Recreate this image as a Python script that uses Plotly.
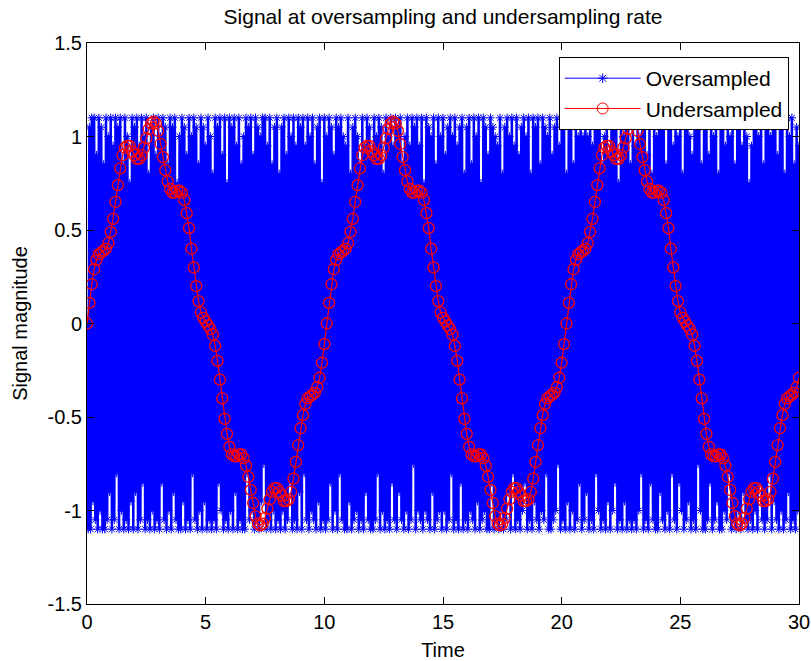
import numpy as np
import plotly.graph_objects as go

# ---------------- data ----------------
# sample times
t_over = np.linspace(0, 30, 601)
t_under = np.linspace(0, 30, 301)

# oversampled (dense, high-frequency) signal values
over_vals = [
    0.0, -1.1, 1.05, -1.1, 1.1, -0.95, 1.1, -1.05, 0.9, -1.1, 1.1, -1.0, 1.05, -1.1, 0.85, -1.1, 1.1, -1.05, 1.0, -0.9,
    1.1, -1.1, 0.95, -1.05, 1.1, -0.8, 1.05, -1.1, 1.1, -1.0, 0.85, -1.1, 1.1, -1.05, 1.0, -1.1, 0.75, -0.95, 1.1, -1.1,
    1.05, -0.9, 1.1, -1.1, 0.95, -1.05, 1.1, -0.85, 1.0, -1.1, 1.1, -1.05, 0.8, -1.1, 1.05, -1.0, 1.1, -1.1, 0.9, -1.05,
    1.1, -1.1, 1.0, -0.85, 1.1, -1.05, 1.05, -1.1, 0.85, -1.0, 1.1, -1.1, 1.05, -0.9, 1.1, -1.05, 0.75, -1.1, 1.0, -1.1,
    1.1, -0.95, 1.05, -1.1, 0.9, -1.05, 1.1, -1.1, 1.0, -0.8, 1.1, -1.05, 1.05, -1.1, 0.85, -1.0, 1.1, -1.1, 1.05, -0.95,
    0.95, -1.1, 1.1, -1.05, 1.0, -1.1, 0.8, -1.05, 1.1, -1.1, 1.05, -0.85, 1.1, -1.0, 0.9, -1.1, 1.1, -1.05, 0.75, -1.1,
    1.1, -1.0, 1.05, -1.1, 1.1, -0.9, 0.95, -1.1, 1.1, -1.05, 0.85, -1.1, 1.0, -1.1, 1.1, -0.8, 1.05, -1.05, 1.1, -1.0,
    0.9, -1.1, 1.1, -1.05, 1.05, -1.1, 1.0, -0.95, 1.1, -0.75, 1.1, -1.1, 0.95, -1.05, 1.1, -1.1, 0.85, -1.0, 1.05, -1.1,
    1.1, -1.05, 0.8, -1.1, 1.05, -1.0, 1.1, -1.1, 0.9, -1.05, 1.1, -0.85, 1.0, -1.1, 1.1, -1.05, 0.95, -1.1, 1.1, -0.9,
    1.05, -1.1, 1.1, -0.8, 0.95, -1.05, 1.1, -1.1, 1.0, -1.0, 1.1, -1.05, 0.85, -1.1, 1.05, -0.95, 1.1, -1.1, 0.75, -1.05,
    1.1, -1.1, 1.0, -1.05, 1.1, -0.85, 1.05, -1.1, 0.9, -1.0, 1.1, -1.1, 1.05, -0.8, 1.1, -1.05, 1.0, -1.1, 0.95, -1.1,
    1.1, -0.95, 0.8, -1.1, 1.05, -1.05, 1.1, -1.0, 1.0, -1.1, 0.85, -1.05, 1.1, -1.1, 0.95, -0.9, 1.1, -1.05, 1.05, -1.1,
    0.9, -1.1, 1.1, -1.05, 1.0, -0.8, 1.1, -1.1, 1.05, -1.0, 0.8, -1.1, 1.1, -1.05, 1.0, -1.1, 1.1, -0.85, 0.95, -1.05,
    1.1, -1.1, 1.05, -0.9, 1.1, -1.05, 0.85, -1.1, 1.0, -1.0, 1.1, -1.1, 0.95, -1.05, 1.1, -0.75, 1.05, -1.1, 1.1, -1.0,
    0.95, -1.05, 1.1, -1.1, 0.75, -1.0, 1.1, -1.05, 1.05, -1.1, 1.0, -0.9, 1.1, -1.1, 0.85, -1.05, 1.1, -1.0, 1.0, -1.1,
    1.1, -1.0, 0.9, -1.1, 1.05, -1.05, 1.1, -0.8, 1.0, -1.1, 1.1, -1.05, 0.95, -1.1, 1.05, -0.85, 1.1, -1.1, 0.8, -1.05,
    1.05, -1.1, 1.1, -1.0, 0.85, -1.05, 1.1, -1.1, 1.0, -0.95, 1.1, -1.1, 0.75, -1.05, 1.1, -1.0, 1.05, -1.1, 0.9, -1.1,
    1.1, -0.85, 1.05, -1.1, 1.0, -1.05, 0.95, -1.1, 1.1, -1.0, 0.8, -1.1, 1.05, -1.05, 1.1, -0.9, 1.0, -1.1, 1.1, -0.8,
    0.95, -1.1, 1.1, -1.05, 0.9, -1.1, 1.05, -1.0, 1.1, -0.85, 1.0, -1.1, 1.1, -1.05, 0.8, -1.1, 1.1, -0.95, 1.05, -1.05,
    1.1, -1.1, 0.85, -1.0, 1.1, -1.05, 1.05, -0.8, 1.0, -1.1, 1.1, -1.1, 0.9, -1.05, 1.05, -1.0, 1.1, -0.75, 0.95, -1.1,
    1.05, -1.05, 1.1, -1.1, 0.8, -0.95, 1.1, -1.1, 1.05, -1.0, 0.85, -1.1, 1.1, -1.05, 1.0, -0.85, 1.1, -1.1, 1.0, -1.05,
    1.1, -0.9, 1.0, -1.1, 1.05, -1.05, 0.95, -1.1, 1.1, -0.8, 1.05, -1.0, 1.1, -1.1, 0.85, -1.05, 1.0, -1.1, 1.1, -0.95,
    0.9, -1.1, 1.1, -1.0, 1.05, -0.85, 1.1, -1.1, 0.75, -1.05, 1.1, -1.1, 1.0, -0.95, 1.05, -1.1, 1.1, -1.05, 0.85, -1.1,
    1.1, -1.05, 0.95, -1.1, 1.1, -1.0, 1.0, -0.8, 1.05, -1.1, 1.1, -1.05, 0.9, -1.1, 1.1, -0.85, 0.8, -1.05, 1.1, -1.1,
    1.0, -1.1, 1.05, -0.9, 1.1, -1.05, 1.1, -1.1, 0.85, -1.0, 1.05, -1.1, 1.1, -0.8, 0.95, -1.05, 1.1, -1.1, 1.0, -0.85,
    1.1, -1.0, 0.8, -1.1, 1.05, -1.05, 1.1, -0.95, 1.0, -1.1, 0.9, -1.05, 1.1, -1.1, 1.05, -0.75, 1.1, -1.0, 0.85, -1.1,
    1.05, -1.1, 1.1, -1.05, 0.9, -0.85, 1.1, -1.1, 1.0, -1.05, 1.1, -0.95, 0.8, -1.1, 1.05, -1.1, 1.1, -1.0, 0.95, -1.05,
    1.1, -0.8, 1.0, -1.1, 1.1, -1.05, 0.85, -1.1, 1.05, -1.0, 1.1, -1.1, 0.95, -0.9, 1.1, -1.05, 1.0, -1.1, 0.75, -1.05,
    0.95, -1.1, 1.1, -1.0, 1.05, -1.1, 1.0, -0.85, 1.1, -1.05, 0.85, -1.1, 1.1, -1.05, 1.05, -0.8, 1.0, -1.1, 1.1, -0.95,
    1.1, -1.05, 0.9, -1.1, 1.05, -1.0, 1.1, -1.1, 0.8, -1.05, 1.1, -0.9, 1.0, -1.1, 1.1, -1.05, 0.85, -1.1, 1.05, -1.0,
    0.95,
]

# undersampled (aliased) signal values, one per circle
under_vals = [
    0.00, 0.11, 0.21, 0.29, 0.34, 0.37, 0.38, 0.39, 0.40, 0.43,
    0.49, 0.56, 0.65, 0.74, 0.83, 0.90, 0.94, 0.95, 0.95, 0.92,
    0.90, 0.88, 0.88, 0.90, 0.94, 0.99, 1.04, 1.07, 1.08, 1.07,
    1.03, 0.96, 0.89, 0.82, 0.76, 0.72, 0.70, 0.70, 0.71, 0.71,
    0.70, 0.66, 0.59, 0.51, 0.40, 0.30, 0.20, 0.12, 0.06, 0.03,
    0.01, -0.01, -0.03, -0.06, -0.12, -0.20, -0.30, -0.40, -0.51, -0.59,
    -0.66, -0.70, -0.71, -0.71, -0.70, -0.70, -0.72, -0.76, -0.82, -0.89,
    -0.96, -1.03, -1.07, -1.08, -1.07, -1.04, -0.99, -0.94, -0.90, -0.88,
    -0.88, -0.90, -0.92, -0.95, -0.95, -0.94, -0.90, -0.83, -0.74, -0.65,
    -0.56, -0.49, -0.43, -0.40, -0.39, -0.38, -0.37, -0.34, -0.29, -0.21,
    -0.11,
    0.00, 0.11, 0.21, 0.29, 0.34, 0.37, 0.38, 0.39, 0.40, 0.43,
    0.49, 0.56, 0.65, 0.74, 0.83, 0.90, 0.94, 0.95, 0.95, 0.92,
    0.90, 0.88, 0.88, 0.90, 0.94, 0.99, 1.04, 1.07, 1.08, 1.07,
    1.03, 0.96, 0.89, 0.82, 0.76, 0.72, 0.70, 0.70, 0.71, 0.71,
    0.70, 0.66, 0.59, 0.51, 0.40, 0.30, 0.20, 0.12, 0.06, 0.03,
    0.01, -0.01, -0.03, -0.06, -0.12, -0.20, -0.30, -0.40, -0.51, -0.59,
    -0.66, -0.70, -0.71, -0.71, -0.70, -0.70, -0.72, -0.76, -0.82, -0.89,
    -0.96, -1.03, -1.07, -1.08, -1.07, -1.04, -0.99, -0.94, -0.90, -0.88,
    -0.88, -0.90, -0.92, -0.95, -0.95, -0.94, -0.90, -0.83, -0.74, -0.65,
    -0.56, -0.49, -0.43, -0.40, -0.39, -0.38, -0.37, -0.34, -0.29, -0.21,
    -0.11,
    0.00, 0.11, 0.21, 0.29, 0.34, 0.37, 0.38, 0.39, 0.40, 0.43,
    0.49, 0.56, 0.65, 0.74, 0.83, 0.90, 0.94, 0.95, 0.95, 0.92,
    0.90, 0.88, 0.88, 0.90, 0.94, 0.99, 1.04, 1.07, 1.08, 1.07,
    1.03, 0.96, 0.89, 0.82, 0.76, 0.72, 0.70, 0.70, 0.71, 0.71,
    0.70, 0.66, 0.59, 0.51, 0.40, 0.30, 0.20, 0.12, 0.06, 0.03,
    0.01, -0.01, -0.03, -0.06, -0.12, -0.20, -0.30, -0.40, -0.51, -0.59,
    -0.66, -0.70, -0.71, -0.71, -0.70, -0.70, -0.72, -0.76, -0.82, -0.89,
    -0.96, -1.03, -1.07, -1.08, -1.07, -1.04, -0.99, -0.94, -0.90, -0.88,
    -0.88, -0.90, -0.92, -0.95, -0.95, -0.94, -0.90, -0.83, -0.74, -0.65,
    -0.56, -0.49, -0.43, -0.40, -0.39, -0.38, -0.37, -0.34, -0.29,
]

x_tick_vals = [0, 5, 10, 15, 20, 25, 30]
y_tick_vals = [-1.5, -1, -0.5, 0, 0.5, 1, 1.5]
y_tick_text = ["-1.5", "-1", "-0.5", "0", "0.5", "1", "1.5"]

# ---------------- figure ----------------
FONT = "Liberation Sans, Arial, Helvetica, sans-serif"
BLUE = "#0000ff"
RED = "#ff0000"

fig = go.Figure()
# data traces (legend drawn by thin-line proxies below)
fig.add_trace(go.Scatter(
    x=t_over, y=over_vals, mode="lines+markers", name="Oversampled",
    showlegend=False,
    line=dict(color=BLUE, width=2.5),
    marker=dict(symbol="asterisk-open", size=7, color=BLUE,
                line=dict(color=BLUE, width=1)),
))
fig.add_trace(go.Scatter(
    x=t_under, y=under_vals, mode="lines+markers", name="Undersampled",
    showlegend=False,
    line=dict(color=RED, width=1.2),
    marker=dict(symbol="circle-open", size=11, color=RED,
                line=dict(color=RED, width=1.3)),
))
# legend entries
fig.add_trace(go.Scatter(
    x=[None], y=[None], mode="lines+markers", name="Oversampled",
    line=dict(color=BLUE, width=1),
    marker=dict(symbol="asterisk-open", size=8, color=BLUE,
                line=dict(color=BLUE, width=1)),
))
fig.add_trace(go.Scatter(
    x=[None], y=[None], mode="lines+markers", name="Undersampled",
    line=dict(color=RED, width=1),
    marker=dict(symbol="circle-open", size=11, color=RED,
                line=dict(color=RED, width=1)),
))

axis_common = dict(
    showline=True, linecolor="black", linewidth=1, mirror="ticks",
    ticks="inside", ticklen=7, tickcolor="black", tickwidth=1,
    showgrid=False, zeroline=False, automargin=False,
    tickfont=dict(family=FONT, size=20, color="black"),
)

fig.update_layout(
    width=811, height=661,
    margin=dict(l=87, r=12, t=43, b=57, autoexpand=False),
    paper_bgcolor="white", plot_bgcolor="white",
    font=dict(family=FONT, size=20, color="black"),
    title=dict(text="Signal at oversampling and undersampling rate",
               x=0.5, xref="paper", xanchor="center",
               y=1 - 17 / 661, yref="container", yanchor="middle",
               font=dict(family=FONT, size=21, color="black")),
    xaxis=dict(range=[0, 30], tickvals=x_tick_vals,
               title=dict(text="Time", standoff=11,
                          font=dict(family=FONT, size=20)),
               **axis_common),
    yaxis=dict(range=[-1.5, 1.5], tickvals=y_tick_vals, ticktext=y_tick_text,
               title=dict(text="Signal magnitude", standoff=14,
                          font=dict(family=FONT, size=20)),
               **axis_common),
    legend=dict(x=0.9855, y=0.975, xanchor="right", yanchor="top",
                bgcolor="white", bordercolor="black", borderwidth=1,
                font=dict(family=FONT, size=21, color="black"),
                itemwidth=76, tracegroupgap=0),
    showlegend=True,
)

fig.write_html("out.html")
